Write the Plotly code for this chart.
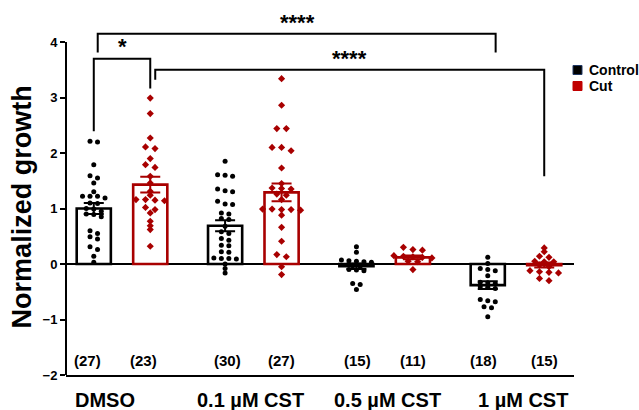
import plotly.graph_objects as go

# ---------------- data ----------------
groups = ["DMSO", "0.1 µM CST", "0.5 µM CST", "1 µM CST"]
series = ["Control", "Cut"]

control_values = [
    [2.21, 2.20, 1.79, 1.59, 1.55, 1.46, 1.30, 1.22, 1.22, 1.22, 1.19, 1.10, 1.09,
     1.00, 0.99, 0.95, 0.90, 0.89, 0.85, 0.60, 0.55, 0.49, 0.45, 0.31, 0.26, 0.14, 0.03],
    [1.85, 1.61, 1.60, 1.58, 1.35, 1.32, 1.30, 1.13, 1.08, 1.07, 0.92, 0.90, 0.82, 0.80,
     0.68, 0.58, 0.55, 0.46, 0.43, 0.34, 0.33, 0.22, 0.21, 0.11, 0.10, 0.10, 0.09, 0.00,
     -0.08, -0.16],
    [0.31, 0.21, 0.07, 0.06, 0.05, 0.04, 0.03, -0.03, -0.04, -0.10, -0.11, -0.12,
     -0.35, -0.37, -0.46],
    [0.12, 0.01, -0.08, -0.10, -0.12, -0.21, -0.33, -0.34, -0.35, -0.41, -0.42, -0.44,
     -0.64, -0.66, -0.68, -0.77, -0.79, -0.95],
]
cut_values = [
    [2.99, 2.71, 2.27, 2.11, 2.08, 1.90, 1.79, 1.74, 1.58, 1.46, 1.31, 1.24, 1.16, 1.16,
     1.15, 1.14, 1.02, 0.98, 0.92, 0.77, 0.69, 0.62, 0.32],
    [3.34, 2.86, 2.44, 2.44, 2.10, 2.10, 2.04, 1.73, 1.45, 1.37, 1.36, 1.35, 1.26, 1.24,
     1.16, 0.99, 0.99, 0.98, 0.98, 0.97, 0.88, 0.66, 0.41, 0.17, 0.13, -0.05, -0.19],
    [0.30, 0.26, 0.25, 0.15, 0.14, 0.13, 0.12, 0.11, 0.05, 0.04, -0.10],
    [0.29, 0.22, 0.14, 0.12, 0.05, 0.04, 0.04, -0.02, -0.05, -0.12, -0.14, -0.15, -0.16,
     -0.26, -0.30],
]
control_mean = [1.00, 0.69, -0.04, -0.38]
control_sem = [0.10, 0.10, 0.05, 0.07]
cut_mean = [1.43, 1.29, 0.12, -0.02]
cut_sem = [0.14, 0.16, 0.035, 0.045]

# significance comparisons: (group, series) -> (group, series), label
comparisons = [
    ((0, 0), (3, 0), "****"),
    ((0, 0), (0, 1), "*"),
    ((0, 1), (3, 1), "****"),
]

# ---------------- style ----------------
FONT = "Liberation Sans, Arial, sans-serif"
BLACK = "#000000"
RED = "#A80000"
RED_LEG = "#C00000"
OFF = 0.215          # half distance between control / cut bars
BAR_W = 0.26
XMIN, XMAX = -0.4265, 3.4417
YMIN, YMAX = -2.0, 4.5766
PLOT_TOP, PLOT_BOT = 10, 375


def bar_x(g, s):
    return g + (-OFF if s == 0 else OFF)


def swarm(vals, center, step, tol=0.065):
    order = sorted(vals, reverse=True)
    xs, ys = [], []
    i = 0
    while i < len(order):
        j = i
        while j < len(order) and order[i] - order[j] <= tol + 1e-9:
            j += 1
        row = order[i:j]
        n = len(row)
        for k, v in enumerate(row):
            xs.append(center + (k - (n - 1) / 2) * step)
            ys.append(v)
        i = j
    return xs, ys


fig = go.Figure()

specs = [
    (control_values, control_mean, control_sem, BLACK, "circle", 5, 7.5 / 131.3),
    (cut_values, cut_mean, cut_sem, RED, "diamond", 5.5, 9.5 / 131.3),
]

for s, (vals, means, sems, col, sym, msize, step) in enumerate(specs):
    xs = [bar_x(g, s) for g in range(len(groups))]
    fig.add_trace(go.Bar(
        x=xs, y=means, width=BAR_W,
        marker=dict(color="white", line=dict(color=col, width=2.6)),
        error_y=dict(type="data", array=sems, visible=True, color=col,
                     thickness=2, width=10),
        showlegend=False, hoverinfo="skip",
    ))

for s, (vals, means, sems, col, sym, msize, step) in enumerate(specs):
    px_all, py_all = [], []
    for g in range(len(groups)):
        px, py = swarm(vals[g], bar_x(g, s), step)
        px_all += px
        py_all += py
    fig.add_trace(go.Scatter(
        x=px_all, y=py_all, mode="markers",
        marker=dict(symbol=sym, size=msize, color=col, line=dict(width=0)),
        showlegend=False, hoverinfo="skip",
    ))

# n labels
annotations = []
n_shift = [[-6.5, 2.5, 1.5, -4.5], [-7, 0, 0, 0.5]]
for s, vals in enumerate([control_values, cut_values]):
    for g in range(len(groups)):
        annotations.append(dict(
            x=bar_x(g, s), y=-1.73, xref="x", yref="y", xshift=n_shift[s][g],
            text=f"({len(vals[g])})", showarrow=False,
            font=dict(family=FONT, size=15, color=BLACK, weight="bold"),
        ))

# group labels under the axis
label_shift = [-17.5, -3, 3, 7]
for g, name in enumerate(groups):
    annotations.append(dict(
        x=g, y=(PLOT_BOT - 400) / (PLOT_BOT - PLOT_TOP), xref="x", yref="paper",
        xshift=label_shift[g], text=name, showarrow=False, yanchor="middle",
        font=dict(family=FONT, size=20, color=BLACK, weight="bold"),
    ))

# y axis title
annotations.append(dict(
    x=(22 - 66) / 508, y=1.02, xref="paper", yref="y", text="Normalized growth",
    textangle=-90, showarrow=False, xanchor="center", yanchor="middle",
    font=dict(family=FONT, size=27, color=BLACK, weight="bold"),
))

# significance brackets
shapes = []
bracket_geom = [
    # (left dx, right dx, top y, left leg y, right leg y, label x, label y)
    (0.03, 0.06, 4.15, 3.81, 3.81, 1.333, 4.36),
    (0.0, 0.0, 3.70, 2.39, 3.16, 0.0, 3.92),
    (0.038, 0.0, 3.50, 3.32, 1.58, 1.733, 3.71),
]
for (a, b, lab), (dl, dr, yt, yl, yr, lx, ly) in zip(comparisons, bracket_geom):
    x1 = bar_x(*a) + dl
    x2 = bar_x(*b) + dr
    shapes.append(dict(
        type="path", xref="x", yref="y",
        path=f"M {x1},{yl} L {x1},{yt} L {x2},{yt} L {x2},{yr}",
        line=dict(color=BLACK, width=2),
    ))
    annotations.append(dict(
        x=lx, y=ly, xref="x", yref="y", text=lab, showarrow=False,
        font=dict(family=FONT, size=22, color=BLACK, weight="bold"),
    ))

# y axis line from -2 to 4
shapes.append(dict(type="line", xref="paper", yref="y", x0=0, x1=0, y0=-2, y1=4,
                   line=dict(color=BLACK, width=2)))

# manual legend
W, H = 639, 410
pw = 508
ph = PLOT_BOT - PLOT_TOP
leg_cols = [BLACK, RED_LEG]
leg_border = ["#203864", RED_LEG]
leg_y = [70, 86]
for s, name in enumerate(series):
    x0 = (573 - 66) / pw
    x1 = (582 - 66) / pw
    y0 = (PLOT_BOT - (leg_y[s] - 4.5)) / ph
    y1 = (PLOT_BOT - (leg_y[s] + 4.5)) / ph
    shapes.append(dict(type="rect", xref="paper", yref="paper", x0=x0, x1=x1,
                       y0=y1, y1=y0, fillcolor=leg_cols[s],
                       line=dict(color=leg_border[s], width=1)))
    annotations.append(dict(
        x=(587 - 66) / pw, y=(PLOT_BOT - leg_y[s]) / ph, xref="paper", yref="paper",
        text=name, showarrow=False, xanchor="left", yanchor="middle",
        font=dict(family=FONT, size=14, color=BLACK, weight="bold"),
    ))

fig.update_layout(
    width=W, height=H,
    margin=dict(l=66, r=W - 574, t=PLOT_TOP, b=H - PLOT_BOT, pad=0),
    paper_bgcolor="white", plot_bgcolor="white",
    barmode="overlay",
    showlegend=False,
    xaxis=dict(range=[XMIN, XMAX], showgrid=False, zeroline=False,
               showline=True, linecolor=BLACK, linewidth=2,
               ticks="", showticklabels=False, fixedrange=True),
    yaxis=dict(range=[YMIN, YMAX], showgrid=False, zeroline=True,
               zerolinecolor=BLACK, zerolinewidth=2, showline=False,
               tickvals=[-2, -1, 0, 1, 2, 3, 4], ticks="outside", ticklen=5,
               tickwidth=2, tickcolor=BLACK,
               tickfont=dict(family=FONT, size=13, color=BLACK, weight="bold"),
               fixedrange=True),
    shapes=shapes,
    annotations=annotations,
)

fig.write_html(
    "out.html",
    config={"displayModeBar": False},
    post_script="document.body.style.margin='0px';document.body.style.padding='0px';",
)
